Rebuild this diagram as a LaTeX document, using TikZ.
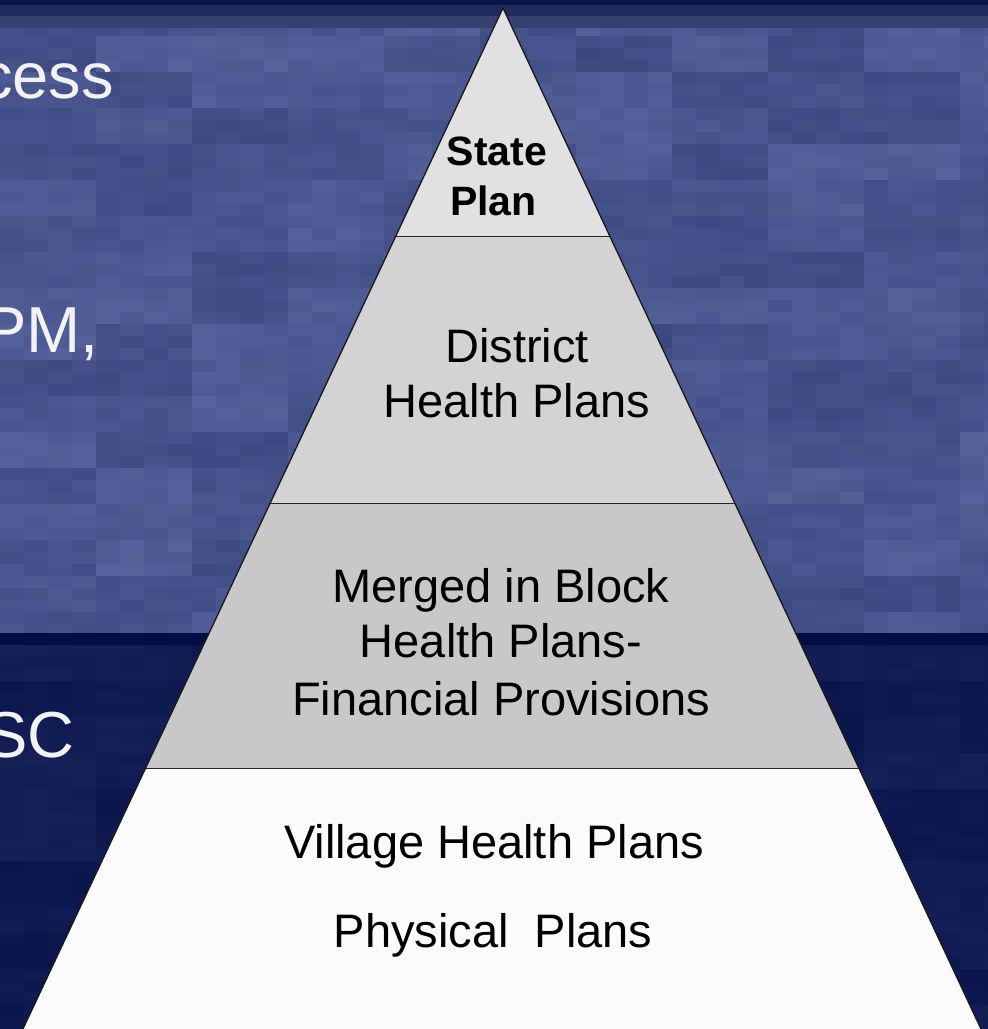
\documentclass[tikz,border=0pt]{standalone}
\usepackage{fontspec}
\setmainfont{Liberation Sans}
\usetikzlibrary{calc}

% slide background
\definecolor{skyDark}{HTML}{36427A}
\definecolor{skyLight}{HTML}{5C68A1}
\definecolor{seaDark}{HTML}{08134A}
\definecolor{seaLight}{HTML}{1C285F}
\definecolor{stripOne}{HTML}{0B1547}
\definecolor{stripTwo}{HTML}{1F2B5F}
\definecolor{stripThree}{HTML}{36416F}
\definecolor{divider}{HTML}{040E44}
\definecolor{slideText}{HTML}{F2F2F4}
% pyramid bands
\definecolor{bandTop}{HTML}{E1E1E1}
\definecolor{bandTwo}{HTML}{D3D3D3}
\definecolor{bandThree}{HTML}{C8C8C8}
\definecolor{bandBase}{HTML}{FBFBFB}

\tikzset{
  slidetext/.style={text=slideText, inner sep=0pt, anchor=base east,
    font=\fontsize{65}{78}\selectfont},
  bandtext/.style={text=black, inner sep=0pt, anchor=base,
    font=\fontsize{47}{56}\selectfont},
  toptext/.style={text=black, inner sep=0pt, anchor=base,
    font=\bfseries\fontsize{41}{50}\selectfont},
  bandline/.style={draw=black!85, line width=1pt},
  outline/.style={draw=black!90, line width=1.3pt, line join=miter},
}

\begin{document}
\begin{tikzpicture}[x=1pt, y=-1pt]
\useasboundingbox (0,0) rectangle (988,1029);
\clip (0,0) rectangle (988,1029);

% ---- textured backdrop: upper lighter blue, lower navy ----
\pgfmathsetseed{2718}
\fill[skyDark] (0,0) rectangle (988,633);
\foreach \row in {0,...,17} {
  \foreach \col in {0,...,10} {
    \pgfmathsetmacro\p{int(20+65*rnd)}
    \fill[skyLight!\p!skyDark] (\col*96, \row*36) rectangle ++(96,36);
  }
}
\foreach \row in {0,...,52} {
  \foreach \col in {0,...,41} {
    \pgfmathsetmacro\p{int(100*rnd)}
    \fill[skyLight!\p!skyDark, opacity=0.25] (\col*24, \row*12) rectangle ++(24,12);
  }
}
\fill[seaDark] (0,633) rectangle (988,1029);
\foreach \row in {0,...,11} {
  \foreach \col in {0,...,10} {
    \pgfmathsetmacro\p{int(10+55*rnd)}
    \fill[seaLight!\p!seaDark] (\col*96, 645+\row*36) rectangle ++(96,36);
  }
}
\foreach \row in {0,...,32} {
  \foreach \col in {0,...,41} {
    \pgfmathsetmacro\p{int(100*rnd)}
    \fill[seaLight!\p!seaDark, opacity=0.2] (\col*24, 645+\row*12) rectangle ++(24,12);
  }
}
% title strip and divider
\fill[stripThree] (0,16) rectangle (988,28);
\fill[stripTwo] (0,5) rectangle (988,16);
\fill[stripOne] (0,0) rectangle (988,5);
\fill[divider] (0,633) rectangle (988,645);

% ---- bullet text running off the left edge ----
\node[slidetext] (bulletA) at (114,98) {cess};
\node[slidetext] (bulletB) at (99,352) {PM,};
\node[slidetext] (bulletC) at (75,757) {SC};

% ---- pyramid ----
\coordinate (apex) at (503,8);
\coordinate (l1) at (395.8,236); \coordinate (r1) at (609.7,236);
\coordinate (l2) at (270.3,503); \coordinate (r2) at (734.8,503);
\coordinate (l3) at (145.7,768); \coordinate (r3) at (858.8,768);
\coordinate (l5) at (18.7,1038); \coordinate (r5) at (985.2,1038);

\fill[bandTop]   (apex) -- (r1) -- (l1) -- cycle;
\fill[bandTwo]   (l1) -- (r1) -- (r2) -- (l2) -- cycle;
\fill[bandThree] (l2) -- (r2) -- (r3) -- (l3) -- cycle;
\fill[bandBase]  (l3) -- (r3) -- (r5) -- (l5) -- cycle;
\draw[bandline] (l1) -- (r1);
\draw[bandline] (l2) -- (r2);
\draw[bandline] (l3) -- (r3);
\draw[outline] (l5) -- (apex) -- (r5);

% ---- band labels ----
\node[toptext] (state) at (497,165) {State};
\node[toptext] (plan)  at (493.5,215) {Plan};

\node[bandtext] (district) at (517,362) {District};
\node[bandtext] (dhp)      at (517,417) {Health Plans};

\node[bandtext] (merged) at (501,602) {Merged in Block};
\node[bandtext] (bhp)    at (501,657) {Health Plans-};
\node[bandtext] (fin)    at (501,715) {Financial Provisions};

\node[bandtext] (village)  at (494,858) {Village Health Plans};
\node[bandtext] (physical) at (493,947) {Physical~ Plans};
\end{tikzpicture}
\end{document}
